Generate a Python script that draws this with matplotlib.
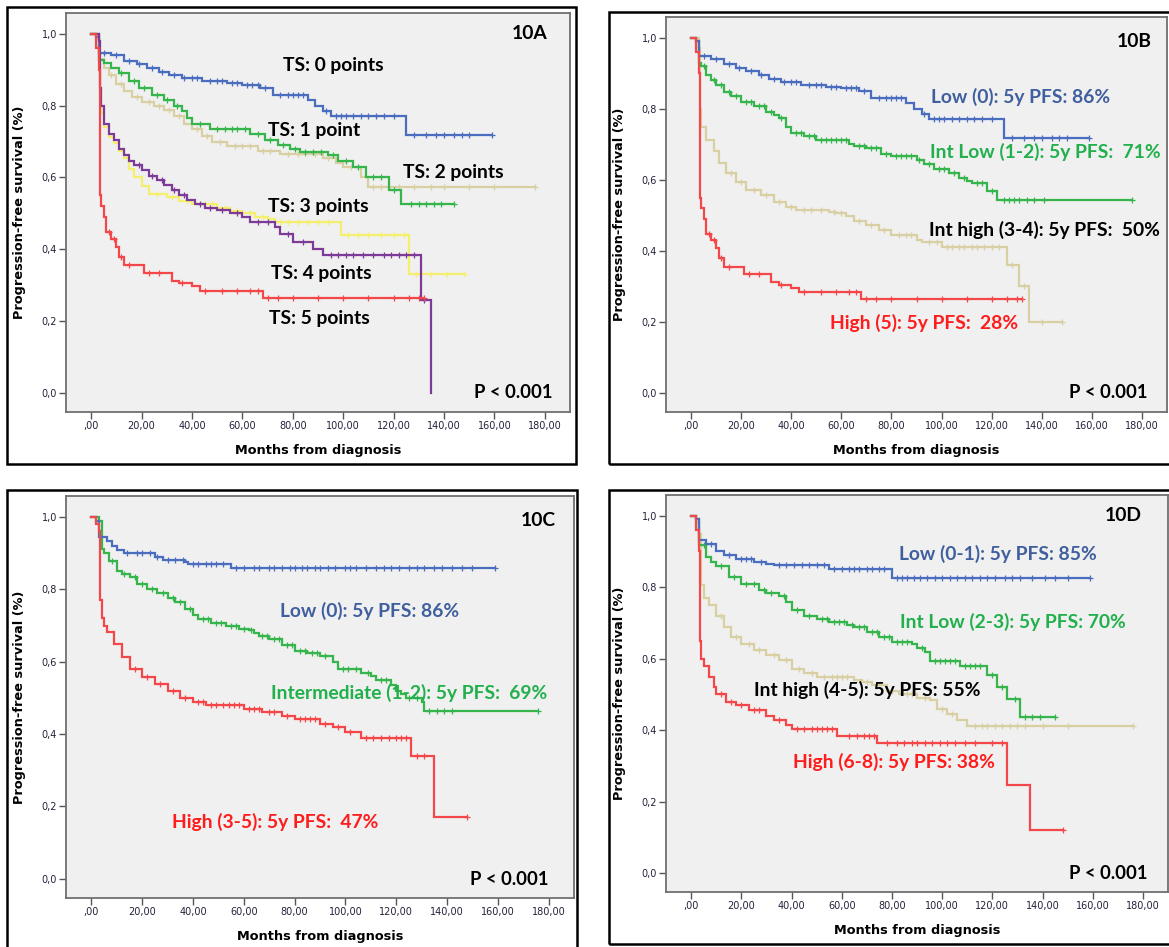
import numpy as np
import matplotlib.pyplot as plt
from matplotlib.patches import Rectangle

# Kaplan-Meier step curves: time (months) where survival steps, survival after the step,
# and times of censored patients

# 10A / 10B shared curves
ts0_t = [0, 2, 3, 8, 13, 18, 22, 27, 31, 36, 44, 54, 60, 67, 72, 86, 89, 92, 95, 125, 159]
ts0_s = [1.0, 0.99, 0.948, 0.94, 0.925, 0.915, 0.905, 0.895, 0.885, 0.876, 0.868, 0.862, 0.858,
         0.850, 0.829, 0.817, 0.80, 0.785, 0.771, 0.719, 0.719]
ts0_c = [5, 10, 15, 19, 24, 28, 33, 37, 40, 42, 47, 50, 52, 56, 58, 62, 64, 66, 69, 75, 78, 80,
         82, 84, 93, 97, 99, 101, 104, 107, 110, 113, 116, 120, 128, 133, 137, 140, 144, 147, 150, 159]

ts5_t = [0, 2, 3, 3.5, 4, 5, 6, 8, 10, 11, 13, 21, 32, 35, 40, 43, 68, 132]
ts5_s = [1.0, 0.96, 0.90, 0.55, 0.52, 0.49, 0.448, 0.43, 0.407, 0.379, 0.356, 0.334, 0.312,
         0.305, 0.297, 0.284, 0.265, 0.265]
ts5_c = [7, 9, 12, 15, 23, 27, 36, 45, 52, 58, 63, 66, 70, 74, 80, 90, 100, 110, 120, 126, 130, 132]

# 10A only
ts1_t = [0, 3, 5, 8, 11, 15, 19, 24, 29, 33, 36, 38, 40, 47, 63, 69, 74, 79, 83, 94, 98, 104,
         109, 118, 123, 144]
ts1_s = [1.0, 0.928, 0.92, 0.905, 0.89, 0.87, 0.85, 0.83, 0.815, 0.80, 0.785, 0.765, 0.748,
         0.736, 0.72, 0.705, 0.69, 0.68, 0.671, 0.662, 0.645, 0.63, 0.602, 0.565, 0.525, 0.525]
ts1_c = [12, 17, 21, 26, 30, 34, 43, 50, 53, 56, 58, 61, 66, 71, 76, 81, 85, 88, 91, 96, 101,
         106, 112, 115, 120, 127, 130, 133, 136, 139, 144]

ts2_t = [0, 3, 5, 7, 10, 13, 16, 20, 25, 29, 33, 37, 40, 44, 48, 54, 66, 75, 92, 97, 100, 107,
         110, 176]
ts2_s = [1.0, 0.93, 0.905, 0.885, 0.86, 0.84, 0.825, 0.81, 0.80, 0.787, 0.77, 0.75, 0.736,
         0.715, 0.70, 0.688, 0.675, 0.665, 0.655, 0.64, 0.628, 0.60, 0.574, 0.574]
ts2_c = [8, 12, 18, 23, 27, 31, 35, 42, 46, 51, 57, 60, 63, 68, 71, 78, 82, 85, 89, 94, 103,
         112, 115, 118, 122, 128, 135, 140, 150, 160, 176]

ts3_t = [0, 3, 3.5, 4, 5, 7, 9, 11, 13, 15, 17, 20, 23, 26, 29, 32, 35, 38, 41, 45, 50, 55,
         60, 63, 73, 75, 80, 88, 92, 131, 135]
ts3_s = [1.0, 0.98, 0.85, 0.80, 0.75, 0.722, 0.705, 0.68, 0.662, 0.645, 0.634, 0.62, 0.605,
         0.592, 0.578, 0.565, 0.551, 0.538, 0.527, 0.515, 0.509, 0.50, 0.49, 0.476, 0.462,
         0.444, 0.42, 0.402, 0.385, 0.258, 0.0]
ts3_c = [19, 24, 28, 33, 37, 43, 47, 52, 58, 66, 70, 78, 84, 95, 98, 101, 104, 108, 112, 116,
         119, 122, 125, 128, 132]

ts4_t = [0, 3, 3.5, 4, 5, 7, 9, 11, 13, 15, 17, 20, 23, 30, 35, 40, 50, 55, 60, 65, 70, 73,
         99, 126, 148]
ts4_s = [1.0, 0.98, 0.85, 0.78, 0.74, 0.713, 0.695, 0.675, 0.655, 0.625, 0.60, 0.575, 0.555,
         0.545, 0.535, 0.525, 0.515, 0.508, 0.50, 0.49, 0.485, 0.476, 0.441, 0.331, 0.331]
ts4_c = [26, 32, 38, 45, 48, 53, 58, 63, 68, 75, 78, 82, 86, 90, 94, 102, 106, 110, 115, 120,
         124, 129, 135, 141, 148]

# 10B
b_il_t = [0, 2, 3, 4, 6, 8, 10, 13, 16, 20, 25, 30, 33, 35, 38, 40, 45, 50, 63, 65, 70, 76,
          80, 90, 93, 97, 103, 107, 110, 112, 118, 122, 176]
b_il_s = [1.0, 0.99, 0.93, 0.92, 0.895, 0.88, 0.867, 0.848, 0.835, 0.82, 0.808, 0.792, 0.783,
          0.773, 0.75, 0.733, 0.723, 0.712, 0.702, 0.695, 0.69, 0.673, 0.666, 0.655, 0.645,
          0.631, 0.619, 0.605, 0.598, 0.59, 0.57, 0.544, 0.544]
b_il_c = [5, 9, 12, 15, 18, 22, 24, 27, 29, 32, 36, 42, 44, 47, 49, 52, 54, 56, 58, 60, 62, 67,
          69, 72, 74, 78, 82, 84, 86, 88, 91, 95, 99, 101, 105, 109, 114, 116, 120, 125, 127,
          129, 131, 134, 137, 141, 176]

b_ih_t = [0, 3, 3.5, 4, 6, 9, 11, 14, 18, 22, 28, 33, 38, 42, 55, 58, 62, 65, 70, 75, 80, 90,
          92, 100, 126, 131, 135, 148]
b_ih_s = [1.0, 0.97, 0.80, 0.75, 0.712, 0.68, 0.647, 0.619, 0.595, 0.572, 0.558, 0.539, 0.525,
          0.515, 0.51, 0.506, 0.497, 0.483, 0.473, 0.46, 0.445, 0.43, 0.424, 0.412, 0.36, 0.30,
          0.20, 0.20]
b_ih_c = [16, 20, 25, 30, 35, 40, 45, 48, 52, 57, 60, 67, 72, 77, 83, 86, 88, 95, 98, 102, 104,
          107, 109, 112, 114, 117, 120, 123, 128, 133, 140, 148]

# 10C
c_low_t = [0, 2, 3, 6, 8, 10, 13, 25, 28, 37, 38, 55, 159]
c_low_s = [1.0, 0.99, 0.945, 0.935, 0.92, 0.91, 0.90, 0.89, 0.88, 0.875, 0.87, 0.86, 0.86]
c_low_c = [14, 18, 20, 23, 26, 30, 33, 36, 40, 42, 45, 47, 49, 52, 57, 60, 64, 66, 70, 72, 75,
           78, 80, 83, 85, 88, 90, 93, 96, 100, 102, 104, 108, 112, 115, 118, 121, 125, 128,
           131, 135, 138, 142, 146, 150, 159]

c_int_t = [0, 3, 4, 5, 7, 10, 12, 15, 18, 22, 26, 30, 33, 37, 40, 42, 47, 53, 58, 62, 64, 66,
           70, 75, 80, 85, 90, 95, 97, 106, 110, 112, 118, 120, 122, 124, 130, 131, 176]
c_int_s = [1.0, 0.99, 0.911, 0.90, 0.879, 0.851, 0.843, 0.833, 0.815, 0.80, 0.79, 0.777,
           0.765, 0.745, 0.73, 0.717, 0.708, 0.699, 0.691, 0.688, 0.68, 0.671, 0.662, 0.647,
           0.63, 0.624, 0.615, 0.598, 0.581, 0.568, 0.56, 0.549, 0.536, 0.52, 0.51, 0.501,
           0.49, 0.463, 0.463]
c_int_c = [8, 13, 17, 20, 24, 28, 32, 35, 39, 44, 46, 49, 51, 55, 57, 60, 63, 67, 69, 72, 74,
           77, 79, 82, 84, 87, 89, 92, 99, 101, 104, 109, 114, 116, 125, 128, 133, 136, 139,
           142, 176]

c_high_t = [0, 2, 3, 3.5, 4, 5, 6, 9, 12, 15, 20, 25, 30, 35, 40, 45, 60, 67, 75, 80, 90, 95,
            100, 106, 126, 135, 148]
c_high_s = [1.0, 0.98, 0.96, 0.77, 0.72, 0.70, 0.681, 0.65, 0.612, 0.58, 0.557, 0.538, 0.52,
            0.501, 0.488, 0.48, 0.47, 0.46, 0.451, 0.442, 0.428, 0.42, 0.405, 0.389, 0.34,
            0.17, 0.17]
c_high_c = [17, 22, 27, 32, 37, 42, 44, 47, 49, 52, 54, 56, 58, 62, 64, 66, 70, 72, 77, 82, 84,
            86, 88, 92, 97, 102, 108, 111, 114, 117, 120, 122, 124, 128, 131, 148]

# 10D
d_low_t = [0, 2, 3, 6, 10, 13, 18, 25, 30, 33, 55, 80, 159]
d_low_s = [1.0, 0.99, 0.932, 0.92, 0.901, 0.89, 0.88, 0.871, 0.866, 0.862, 0.852, 0.826, 0.826]
d_low_c = [8, 15, 20, 22, 24, 28, 35, 38, 41, 44, 47, 50, 53, 57, 60, 63, 65, 67, 70, 72, 75,
           77, 82, 84, 86, 89, 91, 94, 97, 100, 103, 106, 109, 112, 115, 118, 121, 125, 128,
           131, 136, 141, 145, 150, 159]

d_il_t = [0, 2, 3, 6, 8, 10, 15, 20, 27, 30, 35, 38, 40, 45, 50, 55, 62, 65, 70, 75, 80, 88,
          90, 93, 95, 107, 118, 122, 126, 131, 145]
d_il_s = [1.0, 0.99, 0.918, 0.885, 0.87, 0.86, 0.829, 0.81, 0.792, 0.785, 0.775, 0.759, 0.736,
          0.719, 0.71, 0.703, 0.695, 0.689, 0.675, 0.661, 0.647, 0.64, 0.63, 0.619, 0.593,
          0.579, 0.554, 0.521, 0.486, 0.437, 0.437]
d_il_c = [5, 12, 17, 22, 25, 29, 32, 37, 42, 47, 52, 54, 57, 59, 61, 64, 67, 69, 72, 74, 77,
          79, 82, 84, 86, 92, 97, 99, 101, 103, 105, 109, 111, 113, 115, 120, 124, 129, 133,
          136, 139, 145]

d_ih_t = [0, 2, 3, 4, 5, 7, 10, 13, 16, 20, 25, 30, 35, 40, 45, 50, 65, 68, 72, 78, 83, 90,
          95, 98, 102, 106, 110, 176]
d_ih_s = [1.0, 0.98, 0.95, 0.806, 0.77, 0.75, 0.72, 0.689, 0.66, 0.642, 0.624, 0.61, 0.596,
          0.572, 0.56, 0.55, 0.54, 0.536, 0.526, 0.51, 0.50, 0.49, 0.484, 0.46, 0.446, 0.428,
          0.411, 0.411]
d_ih_c = [12, 18, 23, 27, 33, 38, 43, 48, 53, 56, 58, 60, 62, 70, 75, 80, 86, 88, 93, 100, 104,
          113, 116, 118, 121, 124, 127, 130, 133, 140, 150, 176]

d_high_t = [0, 2, 3, 3.5, 4, 5, 7, 9, 10, 14, 18, 23, 30, 33, 38, 40, 58, 74, 126, 135, 148]
d_high_s = [1.0, 0.96, 0.90, 0.65, 0.60, 0.58, 0.55, 0.52, 0.502, 0.479, 0.47, 0.456, 0.44,
            0.428, 0.415, 0.404, 0.383, 0.365, 0.246, 0.121, 0.121]
d_high_c = [12, 16, 20, 25, 27, 35, 42, 45, 48, 50, 52, 54, 56, 63, 66, 69, 71, 73, 78, 82, 85,
            88, 90, 93, 96, 99, 102, 105, 109, 113, 120, 124, 148]

# colours
BLUE = '#4a6dbf'
GREEN = '#35b54b'
TAN = '#d8cfa2'
PURPLE = '#7d3a96'
YELLOW = '#f4ef6c'
RED = '#f4474a'
BLUE_TXT = '#3f5f9e'
GREEN_TXT = '#21b04b'
RED_TXT = '#ff1c1c'

xticks = np.arange(0, 181, 20)
xtick_labels = [',00'] + ['%d,00' % v for v in xticks[1:]]
yticks = np.arange(0, 1.01, 0.2)
ytick_labels = ['%.1f' % v for v in yticks]
ytick_labels = [s.replace('.', ',') for s in ytick_labels]

W, H = 1169, 947
fig = plt.figure(figsize=(W / 100, H / 100), dpi=100)
fig.patch.set_facecolor('white')

LABEL_FONT = ['Lato', 'DejaVu Sans']


def px_rect(l, t, r, b):
    return [l / W, 1 - b / H, (r - l) / W, (b - t) / H]


def km(ax, t, s, cens, color):
    t = np.asarray(t, float)
    s = np.asarray(s, float)
    ax.step(t, s, where='post', color=color, lw=1.6, solid_joinstyle='miter')
    c = np.asarray(cens, float)
    idx = np.searchsorted(t, c, side='right') - 1
    ax.plot(c, s[idx], ls='none', marker='+', ms=5, mew=0.9, color=color)


def panel(box, axrect):
    # outer frame of the panel
    fig.add_artist(Rectangle((box[0] / W, 1 - box[3] / H), (box[2] - box[0]) / W,
                             (box[3] - box[1]) / H, transform=fig.transFigure,
                             fill=False, lw=1.8, ec='black'))
    ax = fig.add_axes(px_rect(*axrect))
    ax.set_facecolor('#f0f0f0')
    for sp in ax.spines.values():
        sp.set_color('#6f6f6f')
        sp.set_linewidth(1.3)
    ax.set_xlim(-10, 190)
    ax.set_ylim(-0.053, 1.058)
    ax.set_xticks(xticks)
    ax.set_xticklabels(xtick_labels)
    ax.set_yticks(yticks)
    ax.set_yticklabels(ytick_labels)
    ax.tick_params(direction='out', length=5, width=1, color='#555555',
                   labelsize=7, labelcolor='#22223a', pad=1.5)
    ax.set_xlabel('Months from diagnosis', fontsize=9.3, fontweight='bold')
    ax.set_ylabel('Progression-free survival (%)', fontsize=9.3, fontweight='bold')
    hpx = axrect[3] - axrect[1]
    wpx = axrect[2] - axrect[0]
    ax.xaxis.set_label_coords(0.5, -32 / hpx)
    ax.yaxis.set_label_coords(-40 / wpx, 0.5)
    return ax


def txt(ax, x, y, s, color='black', size=13.9):
    ax.text(x, y, s, color=color, ha='center', va='center', fontsize=size, fontweight='bold',
            family=LABEL_FONT)


# 10A
ax = panel((7, 7, 576, 464), (66, 13, 570, 412))
km(ax, ts2_t, ts2_s, ts2_c, TAN)
km(ax, ts1_t, ts1_s, ts1_c, GREEN)
km(ax, ts0_t, ts0_s, ts0_c, BLUE)
km(ax, ts4_t, ts4_s, ts4_c, YELLOW)
km(ax, ts3_t, ts3_s, ts3_c, PURPLE)
km(ax, ts5_t, ts5_s, ts5_c, RED)
txt(ax, 173.9, 1.0, '10A')
txt(ax, 96.2, 0.913, 'TS: 0 points')
txt(ax, 88.6, 0.73, 'TS: 1 point')
txt(ax, 143.7, 0.615, 'TS: 2 points')
txt(ax, 90.3, 0.52, 'TS: 3 points')
txt(ax, 91.4, 0.334, 'TS: 4 points')
txt(ax, 90.6, 0.207, 'TS: 5 points')
txt(ax, 167.3, 0.0, 'P < 0.001', size=13.3)

# 10B
ax = panel((609, 12, 1172, 464), (666, 17, 1167, 412))
km(ax, b_ih_t, b_ih_s, b_ih_c, TAN)
km(ax, b_il_t, b_il_s, b_il_c, GREEN)
km(ax, ts0_t, ts0_s, ts0_c, BLUE)
km(ax, ts5_t, ts5_s, ts5_c, RED)
txt(ax, 177, 0.99, '10B')
txt(ax, 131.6, 0.834, 'Low (0): 5y PFS: 86%', BLUE_TXT)
txt(ax, 141.6, 0.679, 'Int Low (1-2): 5y PFS:  71%', GREEN_TXT)
txt(ax, 141.2, 0.459, 'Int high (3-4): 5y PFS:  50%')
txt(ax, 93.2, 0.197, 'High (5): 5y PFS:  28%', RED_TXT)
txt(ax, 166.7, 0.003, 'P < 0.001', size=13.3)

# 10C
ax = panel((7, 490, 577, 952), (66, 496, 574, 898))
km(ax, c_int_t, c_int_s, c_int_c, GREEN)
km(ax, c_low_t, c_low_s, c_low_c, BLUE)
km(ax, c_high_t, c_high_s, c_high_c, RED)
txt(ax, 176, 0.989, '10C')
txt(ax, 109.7, 0.739, 'Low (0): 5y PFS: 86%', BLUE_TXT)
txt(ax, 124.9, 0.515, 'Intermediate (1-2): 5y PFS:  69%', GREEN_TXT)
txt(ax, 72.3, 0.156, 'High (3-5): 5y PFS:  47%', RED_TXT)
txt(ax, 164.6, -0.003, 'P < 0.001', size=13.3)

# 10D
ax = panel((609, 490, 1172, 944), (666, 495, 1168, 892))
km(ax, d_ih_t, d_ih_s, d_ih_c, TAN)
km(ax, d_il_t, d_il_s, d_il_c, GREEN)
km(ax, d_low_t, d_low_s, d_low_c, BLUE)
km(ax, d_high_t, d_high_s, d_high_c, RED)
txt(ax, 172.2, 1.0, '10D')
txt(ax, 122.3, 0.893, 'Low (0-1): 5y PFS: 85%', BLUE_TXT)
txt(ax, 128.3, 0.703, 'Int Low (2-3): 5y PFS: 70%', GREEN_TXT)
txt(ax, 70.2, 0.512, 'Int high (4-5): 5y PFS: 55%')
txt(ax, 80.8, 0.311, 'High (6-8): 5y PFS: 38%', RED_TXT)
txt(ax, 166.3, 0.0, 'P < 0.001', size=13.3)

plt.savefig('out.png', dpi=100)
